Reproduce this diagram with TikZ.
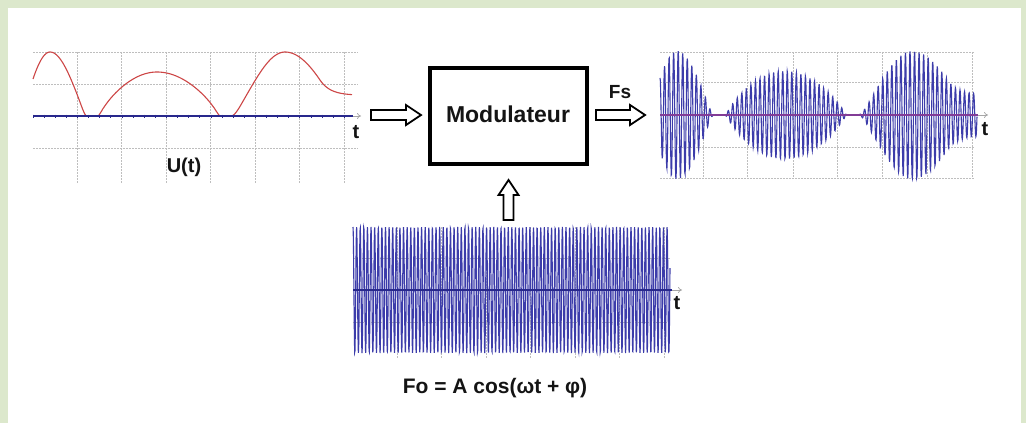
\documentclass[tikz,border=0pt]{standalone}
\usepackage{fontspec}
\setmainfont{Liberation Sans}
\usetikzlibrary{arrows.meta,calc}
\definecolor{bggreen}{RGB}{220,232,204}
\definecolor{sigblue}{RGB}{60,60,170}
\definecolor{axblue}{RGB}{40,40,140}
\definecolor{envred}{RGB}{205,70,70}
\definecolor{axpurple}{RGB}{130,60,150}
\definecolor{gridgray}{RGB}{190,190,190}
\definecolor{txt}{RGB}{20,20,20}
\begin{document}
\begin{tikzpicture}[x=1pt,y=-1pt,
  declare function={
    envV(\u)=(\u<50)?(64*cos((50-\u)*3.2143)):((\u<87)?(64*pow(max(cos((\u-50)*2.4324),0.001),1.2)):((\u<98)?(0):((\u<157)?(44*pow(max(cos((157-\u)*1.5254),0.001),0.8)):((\u<220)?(44*pow(max(cos((\u-157)*1.4286),0.001),0.8)):((\u<230)?(0):((\u<285)?(64*pow(max(cos((285-\u)*1.6364),0.001),1.4)):((\u<320)?(64*cos((\u-285)*1.594)):(21+15*exp(-max(\u-320,0)/10.2)))))))));
    envU(\u)=envV(\u)*(1-exp(-envV(\u)/5));
  },
  gridline/.style={gridgray, line width=0.6pt, dash pattern=on 1.5pt off 1.5pt},
  signal/.style={sigblue, line width=1.1pt},
  axisarrow/.style={gray!70, line width=0.7pt, -{To[length=4pt,width=6pt]}},
  hollowline/.style={draw=black, fill=white, line width=1.8pt, line join=miter},
  lbl/.style={font=\bfseries\fontsize{20}{22}\selectfont, text=txt, inner sep=0pt, anchor=base},
  pics/harr/.style={code={
    \draw[hollowline] (0,-5) -- ({#1-15},-5) -- ({#1-15},-10) -- (#1,0) -- ({#1-15},10) -- ({#1-15},5) -- (0,5) -- cycle;
  }}
]
% background
\fill[bggreen] (0,0) rectangle (1026,423);
\fill[white] (8,8) rectangle (1021,423);

% ---------- left graph U(t) ----------
\foreach \yy in {52,84,116,148} \draw[gridline] (33,\yy) -- (358,\yy);
\foreach \xx in {77,121,166,210,255,299,344} \draw[gridline] (\xx,52) -- (\xx,183);
\draw[envred, line width=1.1pt] plot[domain=33:352, samples=330, variable=\t] (\t, {116-envU(\t)});
\draw[axisarrow] (33,116) -- (361,116);
\draw[axblue, line width=1.2pt] (33,116) -- (353,116);
\foreach \k in {0,...,28} \draw[axblue, line width=0.8pt] ({33+11.12*\k},114.5) -- ++(0,3);
\node[lbl] (tU) at (356,138) {t};
\node[lbl] (Ulab) at (184,172) {U(t)};

% ---------- modulator ----------
\node[draw=black, line width=4pt, minimum width=157pt, minimum height=96pt, inner sep=0pt] (mod) at (508.5,116) {};
\node[lbl, font=\bfseries\fontsize{23}{25}\selectfont] (modtxt) at (508,122) {Modulateur};
\pic at ($(mod.west)+(-57,-1)$) {harr=50};
\pic at ($(mod.east)+(7,-1)$) {harr=49};
\pic[rotate=90] at ($(mod.south)+(0,54)$) {harr=40};
\node[lbl, font=\bfseries\fontsize{19}{21}\selectfont] (Fs) at (620,98) {Fs};

% ---------- right graph Fs ----------
\foreach \yy in {52,82,147,178} \draw[gridline] (660,\yy) -- (975,\yy);
\foreach \xx in {703,747,793,837,882,927,972} \draw[gridline] (\xx,52) -- (\xx,178);
\draw[signal] plot[domain=660:977, samples=1100, variable=\t] (\t, {115-envU(\t-627)*cos(360*frac(0.22*(\t-660)))});
\draw[axisarrow] (660,115) -- (988,115);
\draw[axpurple, line width=1.1pt] (660,115) -- (978,115);
\node[lbl] (tFs) at (985,135) {t};

% ---------- bottom graph Fo ----------
\foreach \yy in {258,322} \draw[gridline] (353,\yy) -- (670,\yy);
\foreach \xx in {397,441,486,530,575,619,664} \draw[gridline] (\xx,227) -- (\xx,358);
\draw[signal] plot[domain=353:670, samples=1300, variable=\t] (\t, {290-63*cos(360*frac(0.277*(\t-353)))});
\draw[axisarrow] (353,290) -- (682,290);
\draw[axblue, line width=1.1pt] (353,290) -- (672,290);
\node[lbl] (tFo) at (677,309) {t};
\node[lbl, font=\bfseries\fontsize{21}{23}\selectfont] (Folab) at (495,393) {Fo = A cos(ωt + φ)};
\end{tikzpicture}
\end{document}
